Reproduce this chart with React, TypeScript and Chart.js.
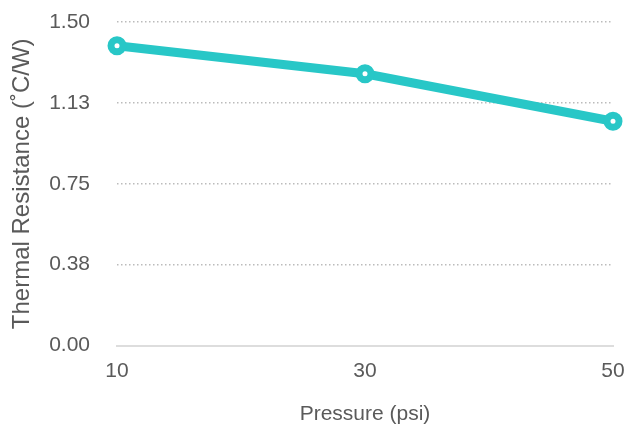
import React, { useEffect, useRef } from "react";
import { Chart, registerables } from "chart.js";

Chart.register(...registerables);

const categories = ["10", "30", "50"];
const resistance = [1.39, 1.26, 1.04];
const yTickLabels = ["0.00", "0.38", "0.75", "1.13", "1.50"];
const xTitle = "Pressure (psi)";
const yTitle = "Thermal Resistance (˚C/W)";

const TEAL = "rgb(40,199,199)";
const TEXT = "#5a5a5a";
const FONT = "'Liberation Sans', Arial, Helvetica, sans-serif";

export default function App() {
  const ref = useRef<HTMLCanvasElement | null>(null);

  useEffect(() => {
    if (!ref.current) return;
    const chart = new Chart(ref.current, {
      type: "line",
      data: {
        labels: categories,
        datasets: [
          {
            data: resistance,
            borderColor: TEAL,
            borderWidth: 9,
            pointRadius: 6,
            pointBorderWidth: 7,
            pointBackgroundColor: "#ffffff",
            pointBorderColor: TEAL,
            tension: 0,
            clip: false as any,
          },
        ],
      },
      options: {
        animation: false,
        responsive: false,
        maintainAspectRatio: false,
        layout: { autoPadding: false, padding: { left: 8, right: 14, top: 22, bottom: 1 } },
        plugins: { legend: { display: false }, tooltip: { enabled: false } },
        scales: {
          x: {
            offset: false,
            afterFit: (scale: any) => {
              scale.paddingRight = 0;
              scale.paddingLeft = 0;
            },
            grid: { display: false },
            border: { display: true, color: "#dddddd", width: 2 },
            ticks: {
              color: TEXT,
              font: { family: FONT, size: 21 },
              padding: 5,
              maxRotation: 0,
            },
            title: {
              display: true,
              text: xTitle,
              color: TEXT,
              font: { family: FONT, size: 21 },
              padding: { top: 13, bottom: 0 },
            },
          },
          y: {
            min: 0,
            max: 1.5,
            afterFit: (scale: any) => {
              scale.width = 109;
              scale.paddingTop = 0;
              scale.paddingBottom = 0;
            },
            ticks: {
              stepSize: 0.375,
              color: TEXT,
              font: { family: FONT, size: 21 },
              padding: 27,
              callback: (_v: any, i: number) => yTickLabels[i],
            },
            grid: {
              color: "#bbbbbb",
              lineWidth: 1.5,
              drawTicks: false,
            },
            border: { display: false, dash: [1.5, 2.5] },
            title: {
              display: true,
              text: yTitle,
              color: TEXT,
              font: { family: FONT, size: 24 },
              padding: { top: 0, bottom: 0 },
            },
          },
        },
      },
    });
    return () => chart.destroy();
  }, []);

  return (
    <div style={{ position: "absolute", left: 0, top: 0, width: 627, height: 428, background: "#fff" }}>
      <canvas ref={ref} width={627} height={428} style={{ width: 627, height: 428 }} />
    </div>
  );
}
